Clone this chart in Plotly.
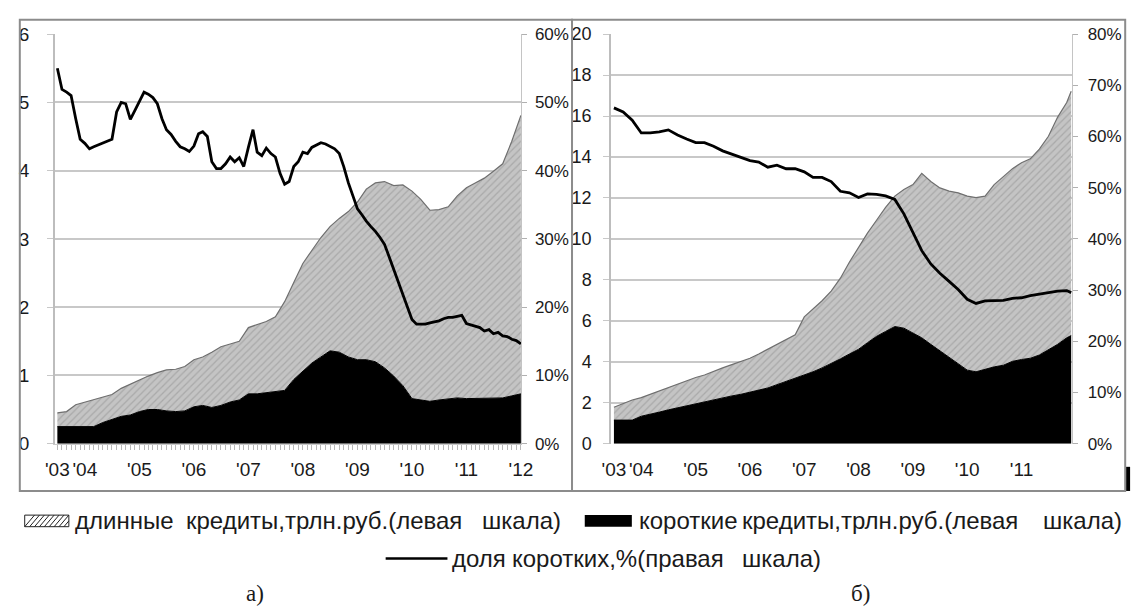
import plotly.graph_objects as go
import pandas as pd

# ---------------- data ----------------
# Left panel (a): bimonthly stacked areas, Jul 2003 .. Jan 2012
L_short = [0.25, 0.25, 0.25, 0.25, 0.25, 0.31, 0.35, 0.40, 0.42, 0.47, 0.50, 0.50, 0.48,
           0.47, 0.48, 0.54, 0.56, 0.53, 0.56, 0.61, 0.64, 0.73, 0.73, 0.75, 0.76, 0.78,
           0.94, 1.06, 1.18, 1.27, 1.36, 1.34, 1.27, 1.23, 1.23, 1.20, 1.11, 0.99, 0.85,
           0.66, 0.64, 0.62, 0.64, 0.65, 0.67, 0.66, 0.66, 0.66, 0.66, 0.67, 0.70, 0.73]
L_long = [0.20, 0.22, 0.32, 0.36, 0.39, 0.37, 0.37, 0.41, 0.45, 0.47, 0.49, 0.54, 0.60,
          0.62, 0.65, 0.69, 0.71, 0.81, 0.86, 0.85, 0.86, 0.97, 1.01, 1.04, 1.10, 1.30,
          1.42, 1.58, 1.65, 1.75, 1.82, 1.96, 2.13, 2.31, 2.50, 2.62, 2.73, 2.79, 2.94,
          3.04, 2.94, 2.80, 2.79, 2.82, 2.96, 3.09, 3.16, 3.23, 3.33, 3.43, 3.73, 4.08]
# Left panel: monthly share of short credits, %, Jul 2003 .. Jan 2012
L_share = [55.0, 51.9, 51.5, 51.0, 47.6, 44.6, 44.0, 43.2, 43.5, 43.8, 44.1, 44.4, 44.6,
           48.6, 50.0, 49.8, 47.5, 48.8, 50.2, 51.5, 51.2, 50.7, 49.8, 47.6, 46.0, 45.3,
           44.3, 43.5, 43.2, 42.8, 43.6, 45.4, 45.7, 45.0, 41.3, 40.3, 40.3, 41.0, 42.0,
           41.3, 41.9, 40.6, 43.4, 46.0, 42.7, 42.2, 43.3, 42.5, 42.0, 39.6, 38.0, 38.4,
           40.6, 41.3, 42.7, 42.5, 43.4, 43.8, 44.1, 43.9, 43.6, 43.2, 42.5, 40.6, 38.2,
           36.3, 34.4, 33.5, 32.6, 31.8, 31.1, 30.2, 29.2, 27.4, 25.5, 23.6, 21.7, 19.8,
           18.2, 17.5, 17.5, 17.5, 17.7, 17.8, 18.0, 18.3, 18.5, 18.5, 18.6, 18.8, 17.6,
           17.4, 17.2, 17.0, 16.5, 16.7, 16.1, 16.3, 15.8, 15.7, 15.3, 15.1, 14.6]

# Right panel (b): bimonthly, Jul 2003 .. Nov 2011, plus Dec 2011
R_short = [1.15, 1.15, 1.15, 1.34, 1.43, 1.54, 1.65, 1.75, 1.86, 1.94, 2.06, 2.14, 2.25,
           2.33, 2.41, 2.52, 2.61, 2.72, 2.88, 3.04, 3.20, 3.35, 3.51, 3.70, 3.91, 4.14,
           4.38, 4.61, 4.93, 5.24, 5.48, 5.72, 5.64, 5.40, 5.17, 4.85, 4.54, 4.22, 3.91,
           3.59, 3.51, 3.64, 3.75, 3.83, 4.02, 4.11, 4.17, 4.33, 4.58, 4.85, 5.17, 5.28]
R_long = [0.63, 0.82, 0.98, 0.91, 0.98, 1.03, 1.07, 1.13, 1.21, 1.29, 1.29, 1.40, 1.45,
          1.53, 1.61, 1.65, 1.77, 1.89, 1.97, 2.05, 2.12, 2.84, 3.07, 3.28, 3.54, 3.94,
          4.49, 4.96, 5.35, 5.67, 6.06, 6.37, 6.77, 7.25, 8.03, 7.95, 7.95, 8.11, 8.34,
          8.50, 8.51, 8.45, 8.90, 9.21, 9.41, 9.61, 9.74, 10.05, 10.43, 11.10, 11.49, 11.93]
R_share = [65.6, 64.8, 63.2, 60.7, 60.7, 60.9, 61.3, 60.3, 59.5, 58.8, 58.8, 58.1, 57.2,
           56.6, 55.9, 55.3, 55.0, 54.0, 54.4, 53.7, 53.7, 53.1, 52.0, 52.0, 51.2, 49.3,
           49.0, 48.1, 48.8, 48.7, 48.4, 47.7, 44.9, 41.1, 37.7, 35.1, 33.3, 31.7, 30.1,
           28.2, 27.4, 27.9, 27.9, 28.0, 28.4, 28.5, 28.9, 29.2, 29.5, 29.8, 29.9, 29.5]

L_dates = pd.date_range("2003-07-01", "2012-01-01", freq="2MS")
L_line_dates = pd.date_range("2003-07-01", "2012-01-01", freq="MS")
R_dates = list(pd.date_range("2003-07-01", "2011-11-01", freq="2MS")) + [pd.Timestamp("2011-12-01")]

L_tick_dates = ["2003-07-01", "2004-01-01", "2005-01-01", "2006-01-01", "2007-01-01",
                "2008-01-01", "2009-01-01", "2010-01-01", "2011-01-01", "2012-01-01"]
L_tick_text = ["'03", "'04", "'05", "'06", "'07", "'08", "'09", "'10", "'11", "'12"]
R_tick_dates = L_tick_dates[:-1]
R_tick_text = L_tick_text[:-1]

legend_long = "длинные кредиты,трлн.руб.(левая шкала)"
legend_short = "короткие кредиты,трлн.руб.(левая шкала)"
legend_share = "доля коротких,%(правая шкала)"
panel_labels = ["а)", "б)"]

# ---------------- figure ----------------
W, H = 1147, 614
def px(x): return x / W
def py(y): return 1 - y / H

FONT = "Liberation Sans Narrow, Arial Narrow, Liberation Sans, Arial, sans-serif"
GRID = "#c8c8c8"
TXT = "#1a1a1a"
hatch = dict(shape="/", bgcolor="#c4c4c4", fgcolor="#8e8e8e", size=5, solidity=0.25)

fig = go.Figure()
for xa, ya, ya2, d, s, l, ld, sh, grp in [
        ("x", "y", "y2", L_dates, L_short, L_long, L_line_dates, L_share, "L"),
        ("x2", "y3", "y4", R_dates, R_short, R_long, R_dates, R_share, "R")]:
    fig.add_trace(go.Scatter(x=d, y=s, xaxis=xa, yaxis=ya, stackgroup=grp, mode="lines",
                             line=dict(color="black", width=1), fillcolor="black",
                             name=legend_short, showlegend=False, hoverinfo="skip"))
    fig.add_trace(go.Scatter(x=d, y=l, xaxis=xa, yaxis=ya, stackgroup=grp, mode="lines",
                             line=dict(color="#6f6f6f", width=1.2), fillcolor="#c4c4c4",
                             fillpattern=hatch, name=legend_long, showlegend=False,
                             hoverinfo="skip"))
    fig.add_trace(go.Scatter(x=ld, y=sh, xaxis=xa, yaxis=ya2, mode="lines",
                             line=dict(color="black", width=2.8), name=legend_share,
                             showlegend=False, hoverinfo="skip"))

tickfont = dict(family=FONT, size=19, color=TXT)
rtickfont = dict(family=FONT, size=18, color=TXT)
pctfont = dict(family=FONT, size=17, color=TXT)
common_y = dict(showgrid=True, gridcolor=GRID, gridwidth=2, zeroline=False,
                showline=True, linecolor="#bdbdbd", linewidth=2,
                ticks="outside", ticklen=6, tickcolor=GRID)
common_y2 = dict(showgrid=False, zeroline=False, showline=True, linecolor="#c4c4c4",
                 linewidth=1, ticks="outside", ticklen=5, tickcolor="#b0b0b0",
                 ticksuffix="%", tickfont=pctfont)
ydom = [py(449), py(25)]

fig.update_layout(
    width=W, height=H, margin=dict(l=0, r=0, t=0, b=0),
    paper_bgcolor="white", plot_bgcolor="white", showlegend=False, hovermode=False,
    xaxis=dict(domain=[px(46), px(521.5)], anchor="y", type="date",
               range=["2003-06-16", "2012-01-05"], tickmode="array",
               tickvals=L_tick_dates, ticktext=L_tick_text, showgrid=False,
               ticks="outside", ticklen=5, tickcolor="#b8b8b8", tickfont=tickfont,
               ticklabelstandoff=4,
               minor=dict(ticks="outside", dtick="M1", tick0="2003-07-01", ticklen=5,
                          tickcolor="#b8b8b8"),
               showline=True, linecolor="#c8c8c8", linewidth=1),
    yaxis=dict(domain=ydom, anchor="x", range=[0, 6], dtick=1,
               ticklabelstandoff=14, tickfont=tickfont, **common_y),
    yaxis2=dict(overlaying="y", side="right", anchor="x", range=[0, 60], dtick=10,
                ticklabelstandoff=4, **common_y2),
    xaxis2=dict(domain=[px(613), px(1083)], anchor="y3", type="date",
                range=["2003-06-13", "2011-12-08"], tickmode="array",
                tickvals=R_tick_dates, ticktext=R_tick_text, showgrid=False,
                ticks="outside", ticklen=5, tickcolor="rgba(0,0,0,0)", tickfont=tickfont,
                ticklabelstandoff=4, showline=False),
    yaxis3=dict(domain=ydom, anchor="x2", range=[0, 20], dtick=2,
                ticklabelstandoff=8, tickfont=rtickfont, **common_y),
    yaxis4=dict(overlaying="y3", side="right", anchor="x2", range=[0, 80], dtick=10,
                ticklabelstandoff=6, **common_y2),
)

LY1, LY2, LY3 = 529, 568, 604
shapes = [
    dict(type="rect", xref="paper", yref="paper", x0=px(10), x1=px(573), y0=py(498), y1=py(10),
         line=dict(color="#8c8c8c", width=2), layer="above"),
    dict(type="rect", xref="paper", yref="paper", x0=px(573), x1=px(1137), y0=py(498), y1=py(10),
         line=dict(color="#8c8c8c", width=2), layer="above"),
    dict(type="rect", xref="paper", yref="paper", x0=px(1138), x1=px(1142), y0=py(498), y1=py(473),
         line=dict(width=0), fillcolor="black"),
    # legend keys
    dict(type="rect", xref="paper", yref="paper", x0=px(15), x1=px(60),
         y0=py(LY1 + 6), y1=py(LY1 - 6), line=dict(color="#222", width=1), fillcolor="white"),
    dict(type="rect", xref="paper", yref="paper", x0=px(586), x1=px(634),
         y0=py(LY1 + 6), y1=py(LY1 - 6), line=dict(width=0), fillcolor="black"),
    dict(type="line", xref="paper", yref="paper", x0=px(383), x1=px(446),
         y0=py(LY2), y1=py(LY2), line=dict(color="black", width=2.5)),
]
for i in range(10):
    x0 = 15 + i * 5
    x1 = min(x0 + 10, 60)
    shapes.append(dict(type="line", xref="paper", yref="paper",
                       x0=px(x0), x1=px(x1), y0=py(LY1 + 6), y1=py(LY1 + 6 - (x1 - x0) * 1.2),
                       line=dict(color="#222", width=1)))
fig.update_layout(shapes=shapes)

lfont = dict(family=FONT, size=24, color=TXT)
# (x, y, text, anchor) -- justified word placement as in the source
words = [
    (65, LY1, "длинные", "left"), (178, LY1, "кредиты,трлн.руб.(левая", "left"),
    (563, LY1, "шкала)", "right"),
    (640, LY1, "короткие", "left"), (745, LY1, "кредиты,трлн.руб.(левая", "left"),
    (1135, LY1, "шкала)", "right"),
    (450, LY2, "доля", "left"), (511, LY2, "коротких,%(правая", "left"),
    (828, LY2, "шкала)", "right"),
]
ann = [dict(xref="paper", yref="paper", x=px(x), y=py(y), text=t, showarrow=False,
            xanchor=a, yanchor="middle", font=lfont, borderpad=0) for x, y, t, a in words]
sfont = dict(family="Liberation Serif, Times New Roman, serif", size=23, color=TXT)
ann += [dict(xref="paper", yref="paper", x=px(250), y=py(LY3), text=panel_labels[0],
             showarrow=False, xanchor="center", yanchor="middle", font=sfont),
        dict(xref="paper", yref="paper", x=px(867), y=py(LY3), text=panel_labels[1],
             showarrow=False, xanchor="center", yanchor="middle", font=sfont)]
fig.update_layout(annotations=ann)

fig.write_html("out.html", config={"displayModeBar": False},
               post_script="document.body.style.margin='0';document.body.style.padding='0';")
